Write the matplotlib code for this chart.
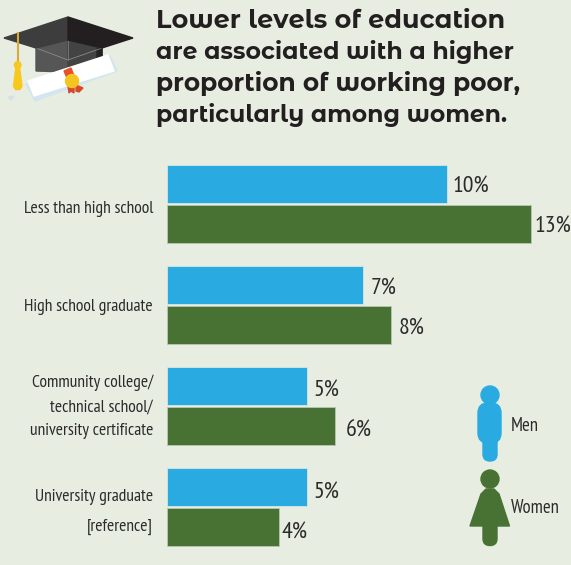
#!/usr/bin/env python3

import matplotlib
matplotlib.use("Agg")
import matplotlib.pyplot as plt
from matplotlib import font_manager
from matplotlib.patches import Polygon, Circle, FancyBboxPatch

categories = ["Less than high school", "High school graduate",
              "Community college/\ntechnical school/\nuniversity certificate",
              "University graduate\n[reference]"]
men = [10, 7, 5, 5]
women = [13, 8, 6, 4]

BG = "#e8ede2"
BLUE = "#29abe2"
GREEN = "#487234"
TEXT = "#2b2b2b"

# nicer faces if the machine has them, otherwise the plain ones at a size that fits
installed = {f.name for f in font_manager.fontManager.ttflist}
if "PT Sans Narrow" in installed:
    NARROW, LABEL_SIZE, VALUE_SIZE, ICON_SIZE = "PT Sans Narrow", 12.6, 17.2, 13.4
else:
    NARROW, LABEL_SIZE, VALUE_SIZE, ICON_SIZE = "Liberation Sans", 9.5, 14, 10
if "Montserrat Alternates" in installed:
    TITLE_FONT, TITLE_SIZES = "Montserrat Alternates", [18.4, 17, 18, 16.9]
else:
    TITLE_FONT, TITLE_SIZES = "DejaVu Sans", [16, 16, 16, 16]

W, H = 571, 565
PX = 72 / 100  # points per pixel
fig = plt.figure(figsize=(W / 100, H / 100), dpi=100, facecolor=BG)

# bars: 28 px per percent, 101 px per group
ax = fig.add_axes([167 / W, (H - 557.5) / H, 404 / W, 404 / H])
ax.set_facecolor("none")
ax.set_xlim(0, 404 / 28)
ax.set_ylim(3.5, -0.5)

# the reference's labels are not evenly placed, so nudge them by hand (pixels)
men_gap = [6, 8, 7, 7]
women_gap = [4, 8, 11, 3]
value_shift = [-3.5, -4, -5.5, -6.5]
label_shift = [-5, -2, -1, -5]
spacing = [1.25, 1.25, 1.67, 2.14]

for i in range(len(categories)):
    ax.barh(i - 20 / 101, men[i], height=38 / 101, color=BLUE, edgecolor="#d5e6e6", linewidth=0.6)
    ax.barh(i + 20 / 101, women[i], height=38 / 101, color=GREEN, edgecolor="#b9c8ad", linewidth=0.6)
    ax.annotate(f"{men[i]}%", (men[i], i - 20 / 101), xytext=(men_gap[i] * PX, value_shift[i] * PX),
                textcoords="offset points", va="center", ha="left",
                fontsize=VALUE_SIZE, family=NARROW, color=TEXT)
    ax.annotate(f"{women[i]}%", (women[i], i + 20 / 101), xytext=(women_gap[i] * PX, value_shift[i] * PX),
                textcoords="offset points", va="center", ha="left",
                fontsize=VALUE_SIZE, family=NARROW, color=TEXT)
    ax.annotate(categories[i], (0, i), xytext=(-14 * PX, label_shift[i] * PX),
                textcoords="offset points", va="center", ha="right", multialignment="right",
                linespacing=spacing[i], fontsize=LABEL_SIZE, family=NARROW, color=TEXT,
                annotation_clip=False)
ax.set_yticks([])
ax.set_xticks([])
for s in ax.spines.values():
    s.set_visible(False)

# overlay in pixel coordinates for the title and pictures
ov = fig.add_axes([0, 0, 1, 1])
ov.set_xlim(0, W)
ov.set_ylim(H, 0)
ov.axis("off")
ov.patch.set_alpha(0)

title = ["Lower levels of education", "are associated with a higher",
         "proportion of working poor,", "particularly among women."]
for i, line in enumerate(title):
    ov.text(156, 20.5 + 31.5 * i, line, fontsize=TITLE_SIZES[i], fontweight="bold", family=TITLE_FONT,
            color="#231f20", va="center", ha="left")

# graduation cap
ov.add_patch(Polygon([(36, 48), (68, 40), (68, 72), (36, 71)], color="#565656", zorder=2))
ov.add_patch(Polygon([(68, 40), (102, 48), (102, 62), (68, 72)], color="#434343", zorder=2))
ov.add_patch(Polygon([(97, 49), (102, 48), (102, 60), (97, 62)], color="#222222", zorder=2))
ov.plot([36, 68, 102], [48, 60, 48], color="#8a8a8a", lw=0.6, zorder=3)
ov.plot([68, 68], [40, 60], color="#7a7a7a", lw=0.6, zorder=3)
ov.add_patch(Polygon([(4, 38), (68, 17), (68, 40), (36, 48)], color="#3d3d3d", zorder=3))
ov.add_patch(Polygon([(68, 17), (133, 38), (102, 48), (68, 40)], color="#231f20", zorder=3))
ov.plot([17.7, 17.7], [33, 63], color="#d9a93a", lw=1.5, zorder=4)
ov.add_patch(Circle((17.7, 65), 3.3, color="#f7c81e", zorder=4))
ov.add_patch(Polygon([(16, 67), (19.5, 67), (22, 86), (20, 89.5), (15.5, 89.5), (13.5, 86)],
                     color="#f7c81e", zorder=4))

# diploma
ov.add_patch(Polygon([(8, 97), (14, 96), (11, 100)], color="#d4e2e6", zorder=4))
ov.add_patch(Polygon([(26, 84), (110, 56), (117, 71), (35, 101)], color="#d2e5f0", zorder=5))
ov.add_patch(Polygon([(28, 81), (108, 55), (114, 71), (34, 96)], color="white", zorder=6))
ov.add_patch(Polygon([(64, 71), (71, 68), (74, 76), (67, 78)], color="#e8502a", zorder=7))
ov.add_patch(Polygon([(68, 86), (74, 86), (74, 93), (71, 91), (69, 93)], color="#d8492a", zorder=7))
ov.add_patch(Polygon([(76, 85), (83, 88), (79, 92), (76, 91)], color="#d8492a", zorder=7))
ov.add_patch(Circle((72, 81), 6.5, color="#f4c41f", zorder=8))

# men icon
ov.add_patch(Circle((490, 395), 9, color=BLUE))
ov.add_patch(FancyBboxPatch((478, 403), 23, 40, boxstyle="round,pad=0,rounding_size=10", color=BLUE))
ov.add_patch(FancyBboxPatch((483, 430), 14, 31, boxstyle="round,pad=0,rounding_size=6.8", color=BLUE))
ov.text(511, 426, "Men", family=NARROW, fontsize=ICON_SIZE, color=TEXT, va="center", ha="left")

# women icon
ov.add_patch(Circle((490, 479), 9, color=GREEN))
ov.add_patch(Polygon([(470, 526), (481, 494), (486, 489), (494, 489), (499, 494), (509.5, 526)], color=GREEN))
ov.add_patch(FancyBboxPatch((483, 520), 14, 25.5, boxstyle="round,pad=0,rounding_size=6.8", color=GREEN))
ov.text(511, 508, "Women", family=NARROW, fontsize=ICON_SIZE, color=TEXT, va="center", ha="left")

fig.savefig("out.png", dpi=100, facecolor=BG)
